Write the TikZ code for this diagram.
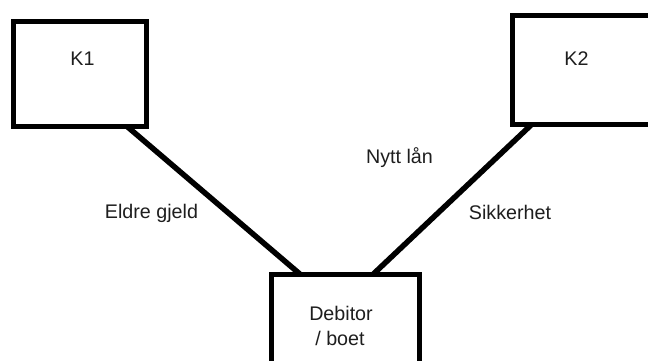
\documentclass[tikz,border=0pt]{standalone}
\usepackage{fontspec}
\setmainfont{Liberation Sans}
\usetikzlibrary{backgrounds}
\definecolor{txt}{RGB}{30,30,30}
\begin{document}
\begin{tikzpicture}[x=1pt,y=-1pt,
  box/.style={draw=black,line width=5pt,fill=white,inner sep=0pt,minimum width=#1},
  lbl/.style={text=txt,inner sep=0pt,font=\fontsize{19.7}{25}\selectfont},
  link/.style={draw=black,line width=5.5pt,shorten <=-5pt,shorten >=-5pt}]
\useasboundingbox (0,0) rectangle (648,361);
\clip (0,0) rectangle (648,361);
\node[box=133pt,minimum height=104.5pt] (k1) at (79.5,73.75) {};
\node[box=150pt,minimum height=108pt] (k2) at (587.5,70) {};
\node[box=148pt,minimum height=110pt] (deb) at (345.5,329.5) {};
\node[lbl] (t1) at (82.5,59) {K1};
\node[lbl] (t2) at (576.5,59) {K2};
\node[lbl] (td1) at (341,313.5) {Debitor};
\node[lbl] (td2) at (340,338.5) {/ boet};
\node[lbl] (eg) at (151.5,213.5) {Eldre gjeld};
\node[lbl] (nl) at (399.5,157.5) {Nytt lån};
\node[lbl] (sk) at (510,212.5) {Sikkerhet};
\begin{pgfonlayer}{background}
\draw[link] ([xshift=-19pt]k1.south east) -- ([xshift=28.5pt]deb.north west);
\draw[link] ([xshift=19.5pt]k2.south west) -- ([xshift=106.5pt]deb.north west);
\end{pgfonlayer}
\end{tikzpicture}
\end{document}
